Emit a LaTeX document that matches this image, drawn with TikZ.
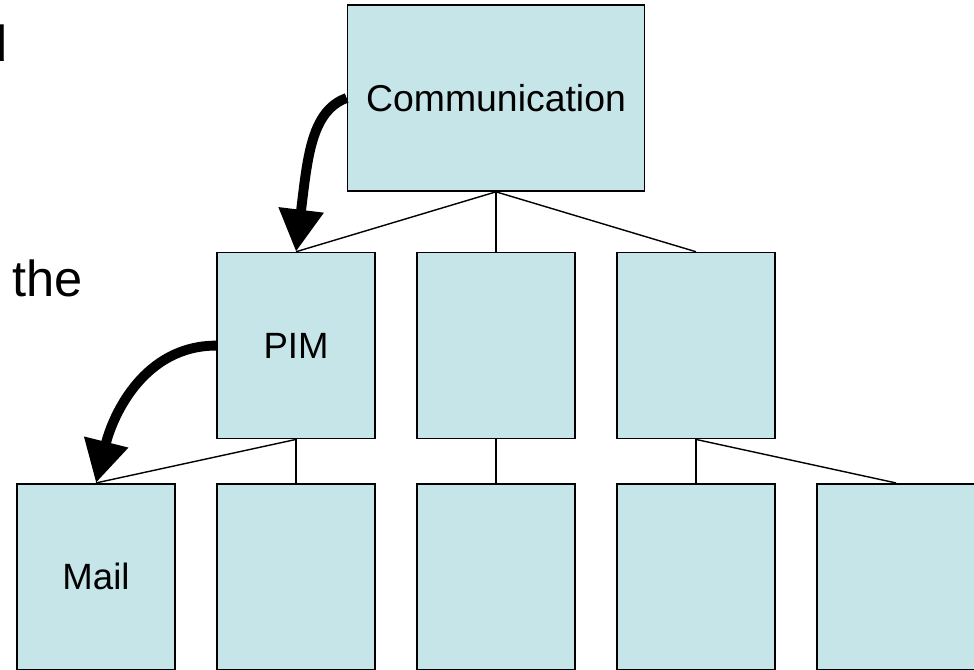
\documentclass[tikz,border=0pt]{standalone}
\usepackage{fontspec}
\setmainfont{Liberation Sans}
\usetikzlibrary{arrows.meta}
\definecolor{hopxanh}{RGB}{198,229,232}

\begin{document}
\begin{tikzpicture}[
		hop/.style={draw, fill=hopxanh, line width=1.2pt, inner sep=0pt,
			minimum width=3.95cm, minimum height=4.65cm, font=\fontsize{26}{30}\selectfont},
		noi/.style={line width=1pt},
		muiten/.style={line width=7pt, -{Triangle[length=30pt, width=30.5pt]}}]
			% Khung cắt
			\clip (0, 0) rectangle (24.35, 16.75);

			% Chữ bên trái
			\node[anchor=base east, inner sep=0pt, font=\fontsize{36}{42}\selectfont] (chu1) at (0.2, 15.2) {d};
			\node[anchor=base west, inner sep=0pt, font=\fontsize{36}{42}\selectfont] (chu2) at (0.3, 9.33) {the};

			% Hàng trên cùng
			\node[hop, minimum width=7.425cm, font=\fontsize{26.6}{30}\selectfont] (comm) at (12.4, 14.3) {Communication};

			% Hàng thứ hai
			\node[hop] (pim) at (7.4, 8.11) {PIM};
			\node[hop] (g2) at (12.4, 8.11) {};
			\node[hop] (g3) at (17.4, 8.11) {};

			% Hàng cuối
			\node[hop] (mail) at (2.4, 2.33) {Mail};
			\node[hop] (c2) at (7.4, 2.33) {};
			\node[hop] (c3) at (12.4, 2.33) {};
			\node[hop] (c4) at (17.4, 2.33) {};
			\node[hop] (c5) at (22.4, 2.33) {};

			% Các đường nối
			\draw[noi] (comm.south) -- (pim.north);
			\draw[noi] (comm.south) -- (g2.north);
			\draw[noi] (comm.south) -- (g3.north);
			\draw[noi] (pim.south) -- (mail.north);
			\draw[noi] (pim.south) -- (c2.north);
			\draw[noi] (g2.south) -- (c3.north);
			\draw[noi] (g3.south) -- (c4.north);
			\draw[noi] (g3.south) -- (c5.north);

			% Mũi tên cong
			\draw[muiten] (comm.west) to[out=200, in=83, out looseness=0.6, in looseness=1.5] (pim.north);
			\draw[muiten] (pim.west) to[out=180, in=76] (mail.north);
		\end{tikzpicture}
\end{document}
